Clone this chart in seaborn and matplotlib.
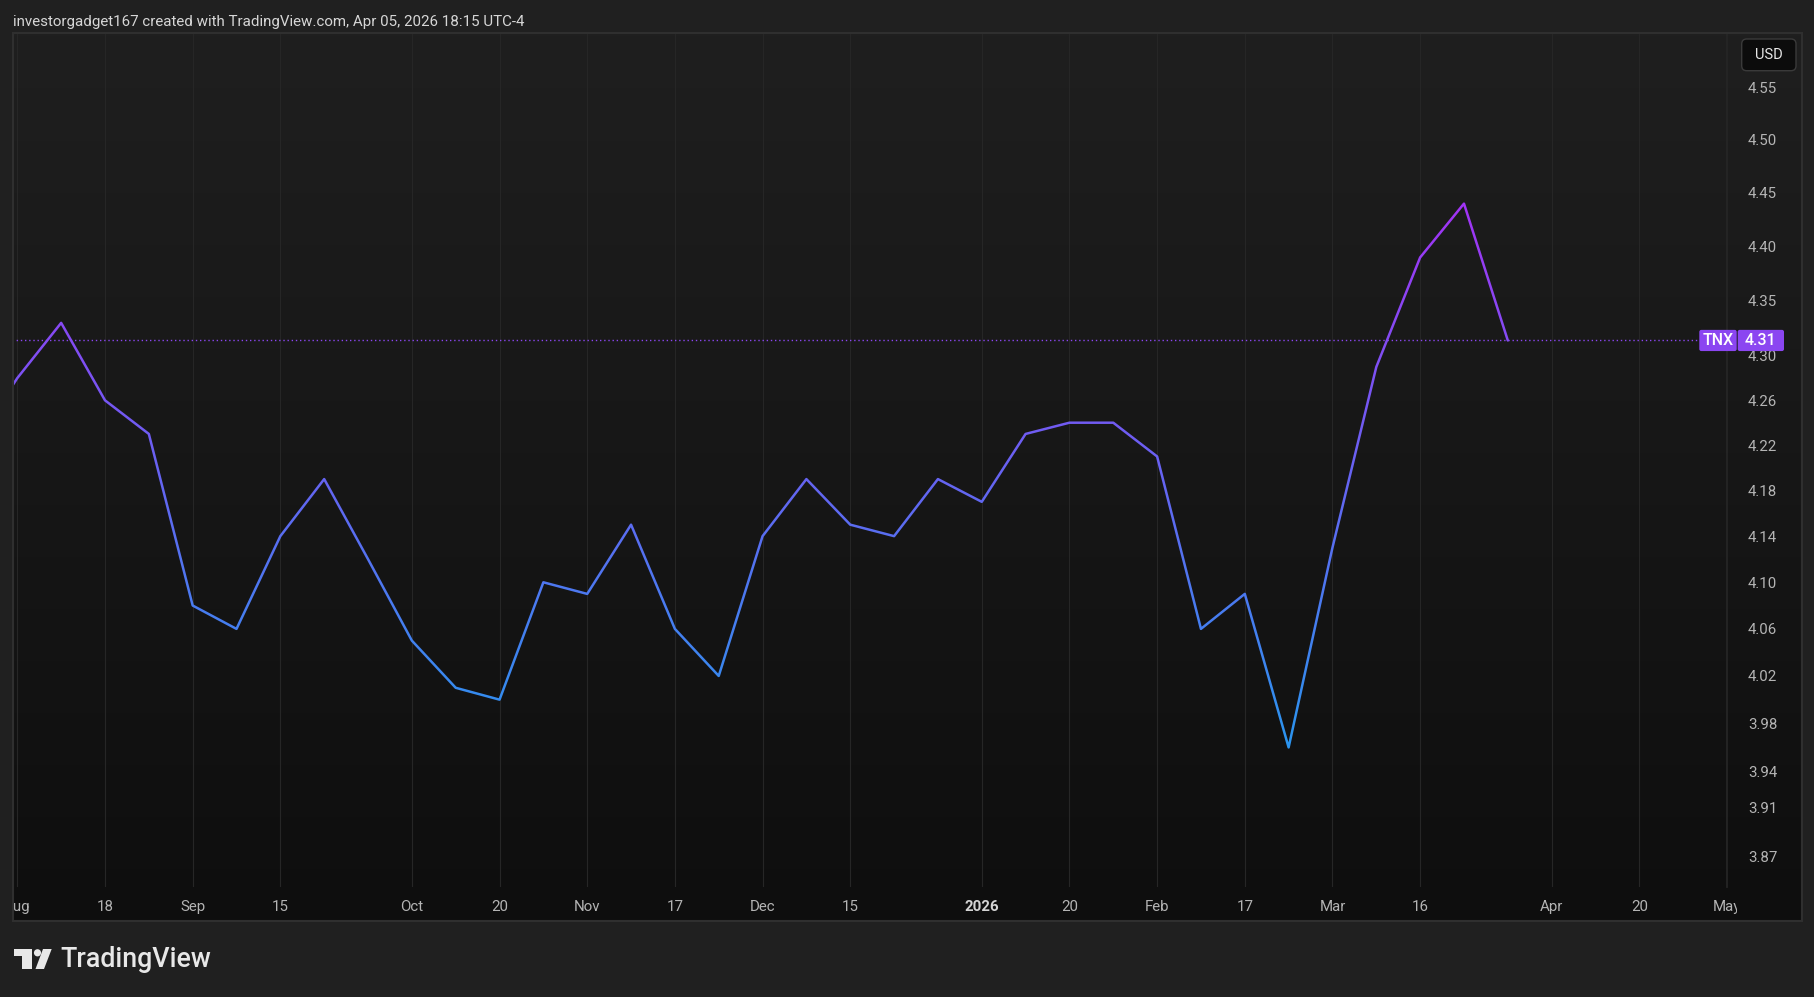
import numpy as np
import pandas as pd
import seaborn as sns
import matplotlib.pyplot as plt
from matplotlib import transforms
from matplotlib.colors import LinearSegmentedColormap
from matplotlib.patches import Rectangle, FancyBboxPatch, Circle, Polygon
from matplotlib.ticker import NullLocator

# weekly TNX closes, bars dated by week start (TradingView weekly chart)
weeks = ['2025-07-28', '2025-08-04', '2025-08-11', '2025-08-18', '2025-08-25',
         '2025-09-01', '2025-09-08', '2025-09-15', '2025-09-22', '2025-09-29',
         '2025-10-06', '2025-10-13', '2025-10-20', '2025-10-27', '2025-11-03',
         '2025-11-10', '2025-11-17', '2025-11-24', '2025-12-01', '2025-12-08',
         '2025-12-15', '2025-12-22', '2025-12-29', '2026-01-05', '2026-01-12',
         '2026-01-19', '2026-01-26', '2026-02-02', '2026-02-09', '2026-02-17',
         '2026-02-23', '2026-03-02', '2026-03-09', '2026-03-16', '2026-03-23',
         '2026-03-30']
tnx = [4.22, 4.28, 4.33, 4.26, 4.23,
       4.08, 4.06, 4.14, 4.19, 4.12,
       4.05, 4.01, 4.00, 4.10, 4.09,
       4.15, 4.06, 4.02, 4.14, 4.19,
       4.15, 4.14, 4.19, 4.17, 4.23,
       4.24, 4.24, 4.21, 4.06, 4.09,
       3.96, 4.13, 4.29, 4.39, 4.44,
       4.314]

# time axis labels (bar index incl. future empty bars up to May)
xtick_labels = ['Aug', '18', 'Sep', '15', 'Oct', '20', 'Nov', '17', 'Dec', '15',
                '2026', '20', 'Feb', '17', 'Mar', '16', 'Apr', '20', 'May']
xtick_bars = [1, 3, 5, 7, 10, 12, 14, 16, 18, 20, 23, 25, 27, 29, 31, 33, 36, 38, 40]
ytick_vals = [4.55, 4.50, 4.45, 4.40, 4.35, 4.30, 4.26, 4.22, 4.18, 4.14,
              4.10, 4.06, 4.02, 3.98, 3.94, 3.91, 3.87]

df = pd.DataFrame({'week': pd.to_datetime(weeks), 'close': tnx})
df['bar'] = np.arange(len(df))

W, H = 1815, 997
sns.set_theme(style='dark', rc={'figure.facecolor': '#202020', 'axes.facecolor': 'none'})
plt.rcParams['font.family'] = ['Roboto', 'DejaVu Sans']

fig = plt.figure(figsize=(W / 100, H / 100), dpi=100)
PX = transforms.IdentityTransform()

def fx(x):
    return x / W

def fy(y):
    return 1 - y / H

# pane background gradient
bg = fig.add_axes([fx(12.5), fy(921), fx(1801.7 - 12.5), (921 - 33.3) / H], zorder=-2)
bg.imshow(np.linspace(0, 1, 256).reshape(-1, 1), aspect='auto', extent=[0, 1, 0, 1],
          cmap=LinearSegmentedColormap.from_list('bg', ['#1f1f1f', '#0e0e0e']), origin='upper')
bg.set_axis_off()

ax = fig.add_axes([fx(12.5), fy(887), (1727 - 12.5) / W, (887 - 33.3) / H])
ax.set_facecolor('none')
ax.set_yscale('log')
ax.set_xlim(0.89, 40.0)
ax.set_ylim(3.8454, 4.6020)

# line coloured by level: blue at the low, purple at the high
cmap = LinearSegmentedColormap.from_list('tnx', ['#2a94ee', '#a233f5'])
nb = 60
edges = np.geomspace(min(tnx), max(tnx), nb + 1)
edges[0], edges[-1] = ax.get_ylim()
blend = transforms.blended_transform_factory(ax.transAxes, ax.transData)
for i in range(nb):
    sns.lineplot(data=df, x='bar', y='close', ax=ax, color=cmap((i + 0.5) / nb),
                 linewidth=1.8, estimator=None, sort=False)
    band = transforms.Bbox([[0, edges[i]], [1, edges[i + 1]]])
    ax.lines[-1].set_clip_box(transforms.TransformedBbox(band, blend))

ax.set_xlim(0.89, 40.0)
ax.set_ylim(3.8454, 4.6020)
ax.set_xlabel('')
ax.set_ylabel('')

last = tnx[-1]
ax.axhline(last, xmax=(1697 - 12.5) / (1727 - 12.5), color='#8b46f1', lw=1,
           ls=(0, (1, 2)), zorder=1)

ax.set_xticks(xtick_bars, labels=xtick_labels)
ax.set_yticks(ytick_vals, labels=[f'{v:.2f}' for v in ytick_vals])
ax.yaxis.set_minor_locator(NullLocator())
ax.yaxis.tick_right()
ax.tick_params(axis='x', length=0, pad=9, labelsize=10.8, labelcolor='#b4b4b4')
ax.tick_params(axis='y', length=0, pad=15, labelsize=10.8, labelcolor='#b4b4b4')
ax.grid(axis='x', color='#262626', lw=0.8)
ax.grid(axis='y', visible=False)
for s in ax.spines.values():
    s.set_visible(False)
ax.spines['right'].set_visible(True)
ax.spines['right'].set_color('#262626')

clip = transforms.TransformedBbox(transforms.Bbox([[fx(12.5), 0], [fx(1737), 1]]), fig.transFigure)
for lab in ax.get_xticklabels():
    lab.set_clip_box(clip)
    lab.set_clip_on(True)
    if lab.get_text() == '2026':
        lab.set_fontweight('bold')
        lab.set_color('#d4d4d4')

# pane frame
fig.add_artist(Rectangle((12.5, H - 921), 1801.7 - 12.5, 921 - 33.3, fill=False,
                         ec='#2f2f2f', lw=1.5, transform=PX))

# last value label
ly = ax.transData.transform((1, last))[1]
fig.add_artist(FancyBboxPatch((1699.3, ly - 10.6), 37.4, 21.2, boxstyle='round,pad=0,rounding_size=2',
                              fc='#8b46f1', ec='none', transform=PX))
fig.add_artist(FancyBboxPatch((1737.7, ly - 10.6), 46.3, 21.2, boxstyle='round,pad=0,rounding_size=2',
                              fc='#8b46f1', ec='none', transform=PX))
fig.text(1718, ly, 'TNX', transform=PX, ha='center', va='center', color='white',
         fontsize=11.5, fontweight='medium')
fig.text(1760.9, ly, f'{last:.2f}', transform=PX, ha='center', va='center', color='white',
         fontsize=11.5, fontweight='medium')

# currency button
fig.add_artist(FancyBboxPatch((1741.7, H - 70.7), 54.3, 31.7, boxstyle='round,pad=0,rounding_size=5',
                              fc='#0c0c0c', ec='#3a3a3a', lw=1, transform=PX))
fig.text(1769, H - 55, 'USD', transform=PX, ha='center', va='center', color='#e8e8e8', fontsize=10.5)

fig.text(fx(13.4), fy(26), 'investorgadget167 created with TradingView.com, Apr 05, 2026 18:15 UTC-4',
         color='#d6d6d6', fontsize=10.9, va='baseline')

# footer logo + wordmark
logo = '#e8e8e8'
fig.add_artist(Polygon([(14.4, H - 949), (31.6, H - 949), (31.6, H - 969), (22, H - 969),
                        (22, H - 956), (14.4, H - 956)], closed=True, fc=logo, ec='none', transform=PX))
fig.add_artist(Circle((37.5, H - 952.8), 3.6, fc=logo, ec='none', transform=PX))
fig.add_artist(Polygon([(43, H - 949), (51.7, H - 949), (44, H - 969), (35.5, H - 969)],
                       closed=True, fc=logo, ec='none', transform=PX))
fig.text(fx(60), fy(967.3), 'TradingView', color=logo, fontsize=19.3, fontweight='medium', va='baseline')

fig.savefig('out.png', dpi=100, facecolor=fig.get_facecolor())
